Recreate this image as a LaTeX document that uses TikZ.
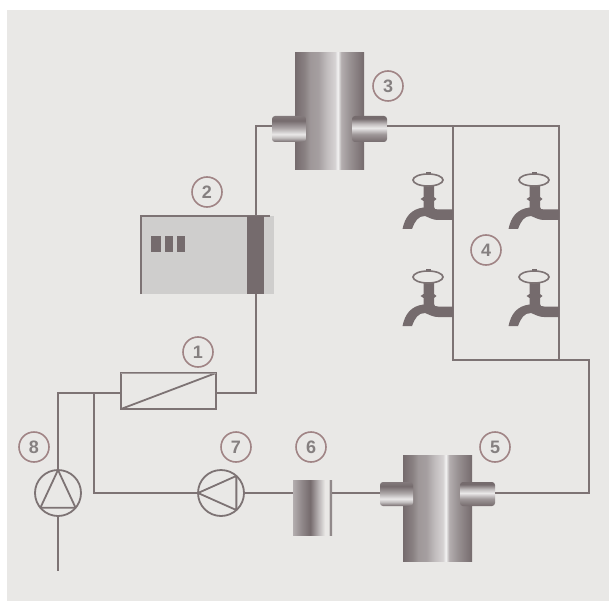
\documentclass[tikz,border=0pt]{standalone}
\usepackage{fontspec}
\setmainfont{Liberation Sans}
\definecolor{paper}{HTML}{E9E8E6}
\definecolor{pipecol}{HTML}{7D7374}
\definecolor{ringcol}{HTML}{A08485}
\definecolor{numcol}{HTML}{858080}
\definecolor{boxcol}{HTML}{CFCECD}
\definecolor{barcol}{HTML}{756B6D}
\pgfdeclarehorizontalshading{vesselshade}{100bp}{
  color(0bp)=(barcol); color(25bp)=(barcol); color(32bp)=(barcol!85!white);
  color(36bp)=(barcol!70!white); color(42bp)=(barcol!65!white); color(48bp)=(barcol!45!white);
  color(54bp)=(barcol!30!white); color(56bp)=(white!92!barcol); color(58.5bp)=(barcol!55!white);
  color(65bp)=(barcol!75!white); color(75bp)=(barcol); color(100bp)=(barcol)}
\pgfdeclarehorizontalshading{filtershade}{100bp}{
  color(0bp)=(barcol!55!white); color(25bp)=(barcol!55!white); color(36bp)=(barcol!80!white);
  color(47bp)=(barcol); color(58bp)=(barcol!50!white); color(66bp)=(paper);
  color(71bp)=(paper); color(72bp)=(barcol!80!white); color(75bp)=(barcol!80!white);
  color(100bp)=(barcol!80!white)}
\pgfdeclareverticalshading{nozzlelow}{100bp}{
  color(0bp)=(barcol); color(25bp)=(barcol); color(33bp)=(barcol!45!white);
  color(40bp)=(white!85!barcol); color(52bp)=(barcol!60!white); color(66bp)=(barcol);
  color(75bp)=(barcol!90!white); color(100bp)=(barcol)}
\pgfdeclareverticalshading{nozzleup}{100bp}{
  color(0bp)=(barcol); color(25bp)=(barcol); color(40bp)=(barcol!70!white);
  color(52bp)=(white!85!barcol); color(60bp)=(barcol!45!white); color(70bp)=(barcol);
  color(75bp)=(barcol); color(100bp)=(barcol)}
\tikzset{
  pipe/.style = {draw = pipecol, line width = 2pt},
  thinline/.style = {draw = pipecol, line width = 1.8pt},
  vessel/.style = {rectangle, inner sep = 0, outer sep = 0, shading = vesselshade},
  pump/.style = {circle, thinline, fill = paper, inner sep = 0, outer sep = 0, minimum size = 46pt},
  numlabel/.style = {circle, draw = ringcol, line width = 1.6pt, inner sep = 0, minimum size = 30pt,
    text = numcol, font = \bfseries\fontsize{18}{18}\selectfont},
  handle/.style = {draw = pipecol, line width = 1.6pt, fill = paper},
}
\begin{document}
\begin{tikzpicture}[x = 1pt, y = -1pt]
  \useasboundingbox (0,0) rectangle (609,601);
  \fill[paper] (7,10) rectangle (609,601);

  % ports on the pipe run
  \coordinate (hxin) at (121,393);
  \coordinate (hxout) at (216,393);
  \coordinate (tee) at (94,393);
  \coordinate (feed) at (58,571);
  \coordinate (bend) at (256,126);
  \coordinate (risetop) at (453,126);
  \coordinate (risebot) at (453,360);
  \coordinate (endtop) at (559,126);
  \coordinate (endbot) at (559,360);
  \coordinate (corner) at (589,360);

  % devices
  \node[rectangle, fill = boxcol, inner sep = 0, outer sep = 0, minimum width = 133pt, minimum height = 78pt]
    (unit) at (207.5,255) {};
  \node[rectangle, thinline, inner sep = 0, outer sep = 0, minimum width = 95pt, minimum height = 36pt]
    (hx) at (168.5,391) {};
  \node[pump] (pumpa) at (221,493) {};
  \node[pump] (pumpb) at (58,493) {};
  \node[vessel, minimum width = 69pt, minimum height = 117pt] (tank) at (329.5,111) {};
  \node[vessel, minimum width = 69pt, minimum height = 106pt] (sump) at (437.5,508) {};
  \node[rectangle, shading = filtershade, inner sep = 0, outer sep = 0, minimum width = 39pt, minimum height = 55pt]
    (filter) at (312.5,507.5) {};

  % nozzles
  \path[shading = nozzlelow, rounded corners = 3pt] (306,116) -- (272,116) -- (272,142) -- (306,142) -- cycle;
  \path[shading = nozzleup, rounded corners = 3pt] (352,116) -- (387,116) -- (387,142) -- (352,142) -- cycle;
  \path[shading = nozzlelow, rounded corners = 3pt] (413,482) -- (380,482) -- (380,506) -- (413,506) -- cycle;
  \path[shading = nozzleup, rounded corners = 3pt] (460,482) -- (495,482) -- (495,506) -- (460,506) -- cycle;
  \coordinate (tankin) at (272,126);
  \coordinate (tankout) at (387,126);
  \coordinate (sumpin) at (380,493);
  \coordinate (sumpout) at (495,493);

  % pipes
  \draw[pipe] (hxout) -| (bend) -- (tankin);
  \draw[pipe] (tankout) -- (endtop) -- (endbot) -- (risebot) -- (risetop);
  \draw[pipe] (endbot) -- (corner) |- (sumpout);
  \draw[pipe] (sumpin) -- (filter.east |- sumpin);
  \draw[pipe] (filter.west |- sumpin) -- (pumpa.east);
  \draw[pipe] (pumpa.west) -| (tee);
  \draw[pipe] (hxin) -| (pumpb.north);
  \draw[pipe] (pumpb.south) -- (feed);

  % heat exchanger
  \draw[thinline] (hx.south west) -- (hx.north east);
  \draw[draw = paper, opacity = 0.35, line width = 1pt] (hx.north west) -- (hx.north east);

  % pump triangles
  \draw[thinline, line join = round] (pumpa.180) -- (pumpa.48) -- (pumpa.-48) -- cycle;
  \draw[thinline, line join = round] (pumpb.90) -- (pumpb.220) -- (pumpb.-40) -- cycle;

  % control unit
  \draw[thinline] (unit.south west) -- (unit.north west) -- ([xshift = -4pt]unit.north east);
  \fill[barcol] (247,216) rectangle (264,294);
  \foreach \x/\w in {151/10, 165/8, 177/8}
    \fill[barcol] (\x,236) rectangle ++(\w,16);

  % taps
  \foreach \x/\y in {428/180, 534/180, 428/277, 534/277}
  {
    \begin{scope}[shift = {(\x,\y)}]
      \fill[barcol, line join = round]
        (-4.5,5) -- (6,5) -- (6,17) -- (8.5,19) -- (6,21) -- (6,27)
        .. controls (6.5,29) and (7,29.5) .. (10,29.5) -- (25,29.5) -- (25,40) -- (10,40)
        .. controls (5,40) and (2,38) .. (-3,36)
        .. controls (-10,36) and (-13,41) .. (-16,49) -- (-25.5,49)
        .. controls (-23,37) and (-17,29) .. (-4.5,27.5)
        -- (-4.5,21) -- (-7.5,19) -- (-4.5,17) -- cycle;
      \fill[barcol] (-2.5,-6) rectangle (2.5,-8);
      \draw[handle] (0,0) ellipse (15 and 6);
    \end{scope}
  }

  % numbers
  \node[numlabel] (mark1) at (198,352) {1};
  \node[numlabel] (mark2) at (207,192) {2};
  \node[numlabel] (mark3) at (388,86) {3};
  \node[numlabel] (mark4) at (486,250) {4};
  \node[numlabel] (mark5) at (495,447) {5};
  \node[numlabel] (mark6) at (311,447) {6};
  \node[numlabel] (mark7) at (236,447) {7};
  \node[numlabel] (mark8) at (34,447) {8};
\end{tikzpicture}
\end{document}
